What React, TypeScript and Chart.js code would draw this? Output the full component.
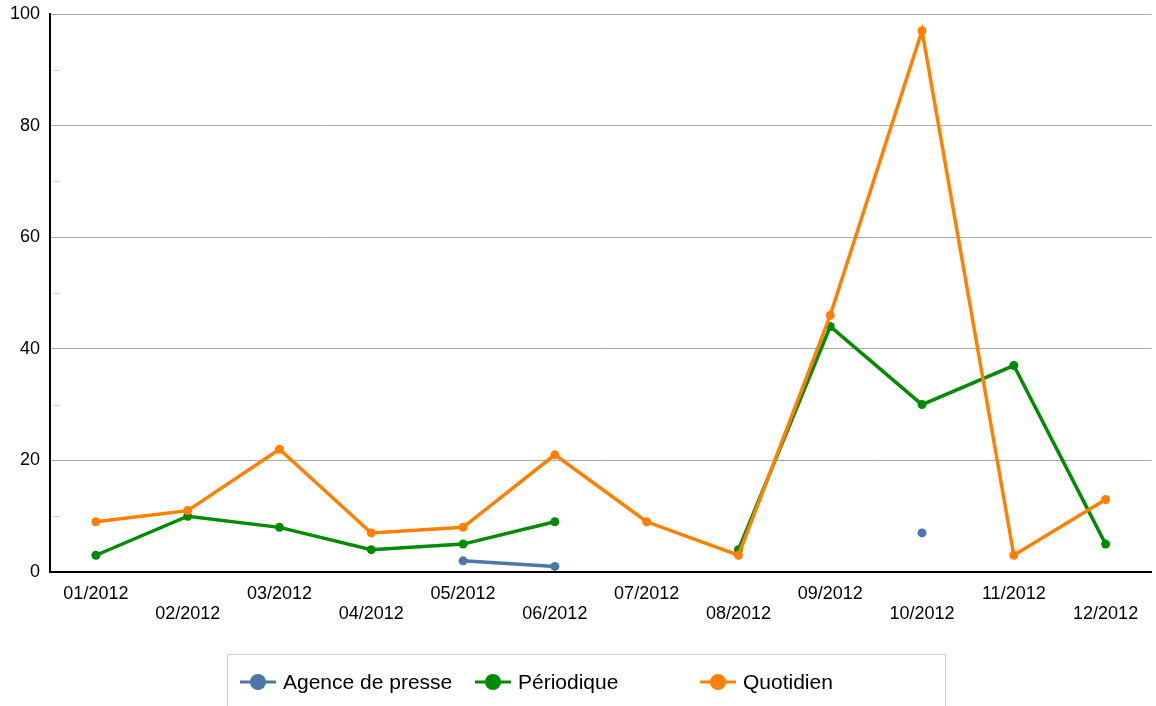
import React, { useEffect, useRef } from "react";
import { Chart, registerables } from "chart.js";

Chart.register(...registerables);

const categories = ["01/2012", "02/2012", "03/2012", "04/2012", "05/2012", "06/2012", "07/2012", "08/2012", "09/2012", "10/2012", "11/2012", "12/2012"];
const agenceValues = [null, null, null, null, 2, 1, null, null, null, 7, null, null];
const periodiqueValues = [3, 10, 8, 4, 5, 9, null, 4, 44, 30, 37, 5];
const quotidienValues = [9, 11, 22, 7, 8, 21, 9, 3, 46, 97, 3, 13];
const seriesNames = ["Agence de presse", "Périodique", "Quotidien"];
const seriesColors = ["#4a78a8", "#008c00", "#ff8000"];
const minorTickValues = [10, 30, 50, 70, 90];

const FONT = "'Liberation Sans', Arial, sans-serif";

const extrasPlugin = {
  id: "extras",
  beforeDatasetsDraw(chart: any) {
    const ctx = chart.ctx;
    const y = chart.scales.y;
    const left = chart.chartArea.left;
    ctx.save();
    ctx.strokeStyle = "#d0d0d0";
    ctx.lineWidth = 1;
    minorTickValues.forEach((v) => {
      const py = Math.round(y.getPixelForValue(v)) + 0.5;
      ctx.beginPath();
      ctx.moveTo(left + 3, py);
      ctx.lineTo(left + 10, py);
      ctx.stroke();
    });
    ctx.restore();
  },
  afterDraw(chart: any) {
    const ctx = chart.ctx;
    ctx.save();
    ctx.strokeStyle = "#cccccc";
    ctx.lineWidth = 1;
    ctx.strokeRect(227.5, 654.5, 718, 80);
    const centers = [258, 493, 718];
    const ly = 682;
    seriesNames.forEach((name, i) => {
      const cx = centers[i];
      ctx.strokeStyle = seriesColors[i];
      ctx.lineWidth = 3;
      ctx.beginPath();
      ctx.moveTo(cx - 18, ly);
      ctx.lineTo(cx + 18, ly);
      ctx.stroke();
      ctx.fillStyle = seriesColors[i];
      ctx.beginPath();
      ctx.arc(cx, ly, 8, 0, Math.PI * 2);
      ctx.fill();
      ctx.fillStyle = "#000";
      ctx.font = `21px ${FONT}`;
      ctx.textBaseline = "middle";
      ctx.textAlign = "left";
      ctx.fillText(name, cx + 25, ly + 1);
    });
    ctx.restore();
  },
};

export default function App() {
  const ref = useRef<HTMLCanvasElement>(null);
  useEffect(() => {
    document.body.style.margin = "0";
    const mk = (i: number, data: any[], order: number) => ({
      label: seriesNames[i],
      data,
      borderColor: seriesColors[i],
      backgroundColor: seriesColors[i],
      pointBackgroundColor: seriesColors[i],
      pointBorderColor: seriesColors[i],
      borderWidth: 3.5,
      pointRadius: 4.5,
      pointBorderWidth: 0,
      tension: 0,
      spanGaps: false,
      order,
    });
    const chart = new Chart(ref.current as HTMLCanvasElement, {
      type: "line",
      data: {
        labels: categories,
        datasets: [mk(0, agenceValues, 3), mk(1, periodiqueValues, 2), mk(2, quotidienValues, 1)],
      },
      options: {
        responsive: false,
        animation: false,
        layout: { padding: { top: 14, right: -2, left: 0, bottom: 0 } },
        plugins: { legend: { display: false }, tooltip: { enabled: false } },
        scales: {
          x: {
            offset: true,
            grid: { display: false, drawTicks: false },
            border: { display: true, color: "#000", width: 2 },
            ticks: {
              autoSkip: false,
              maxRotation: 0,
              minRotation: 0,
              padding: 12,
              color: "#000",
              font: { family: FONT, size: 18, lineHeight: "20px" },
              callback: (_v: any, i: number) => (i % 2 === 0 ? categories[i] : ["", categories[i]]),
            },
            afterFit: (s: any) => {
              s.height = 134;
              s.paddingLeft = 0;
              s.paddingRight = 0;
            },
          },
          y: {
            min: 0,
            max: 100,
            grid: { color: "#a8a8a8", lineWidth: 1, drawTicks: false },
            border: { display: true, color: "#000", width: 2 },
            ticks: {
              stepSize: 20,
              padding: 10,
              color: "#000",
              font: { family: FONT, size: 18 },
            },
            afterFit: (s: any) => {
              s.width = 50;
              s.paddingTop = 0;
              s.paddingBottom = 0;
            },
          },
        },
      },
      plugins: [extrasPlugin],
    });
    return () => chart.destroy();
  }, []);
  return <canvas ref={ref} width={1156} height={706} style={{ display: "block" }} />;
}
